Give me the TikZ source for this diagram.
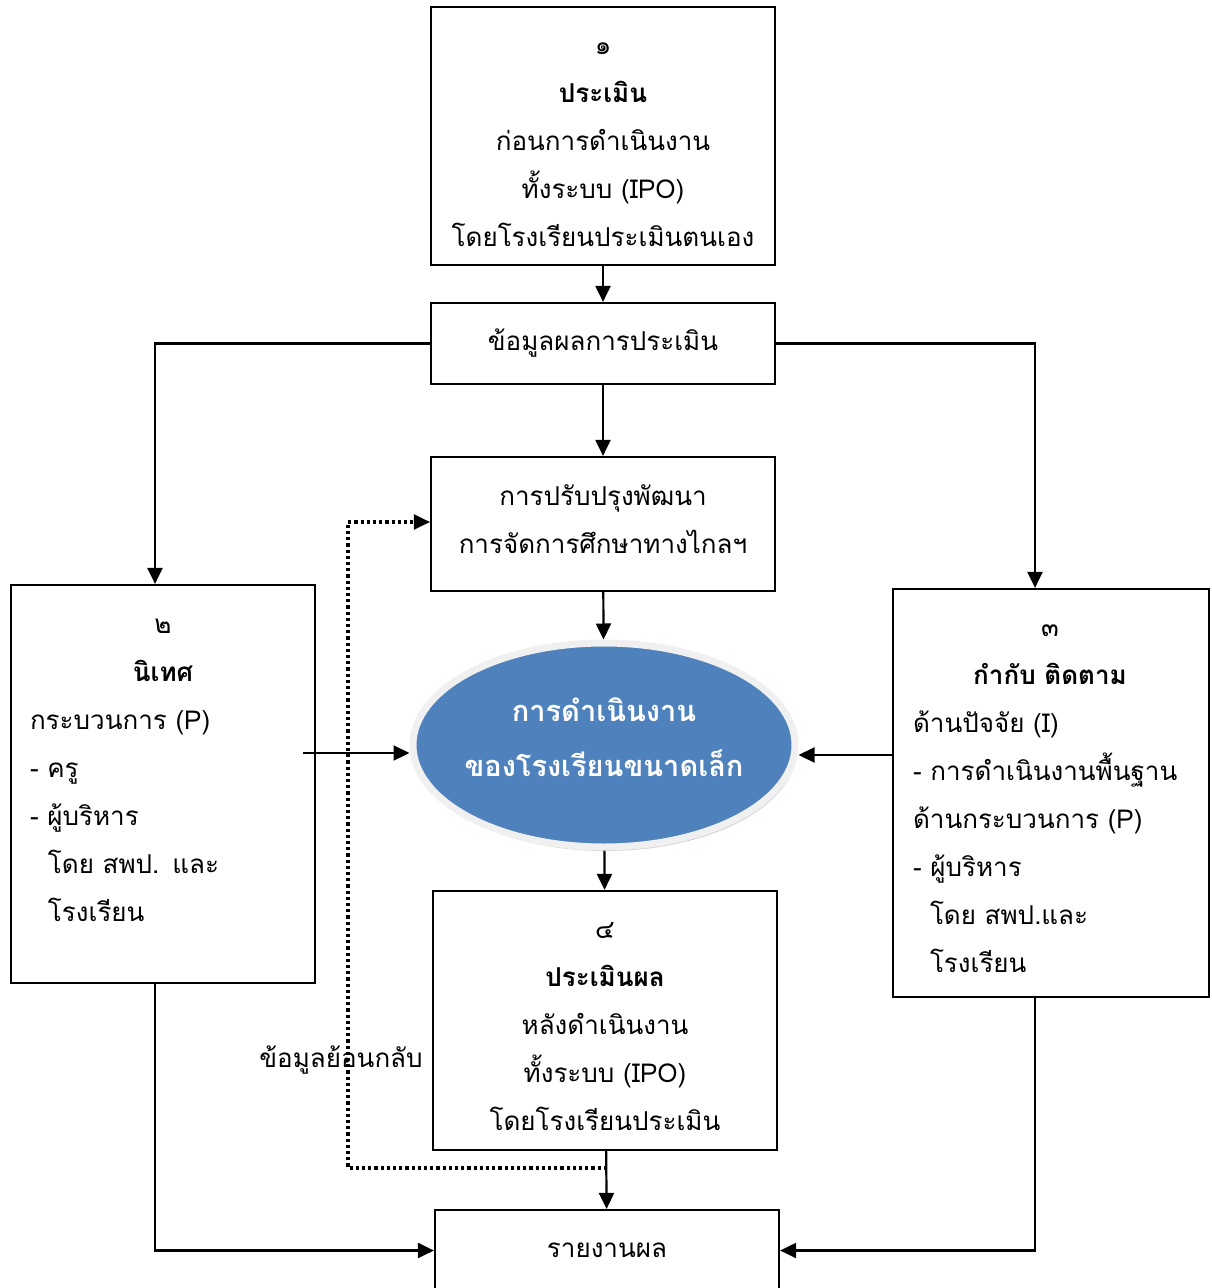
\documentclass[tikz,border=0pt]{standalone}
\usepackage{fontspec}
\newfontfamily\thai[Script=Thai]{Loma}
\usetikzlibrary{arrows.meta,shapes.geometric,shadows}

\tikzset{
    box/.style={draw, line width=1.1pt, minimum width=172pt, inner sep=0pt},
    txt/.style={align=left, inner sep=0pt},
    arr/.style={line width=1.1pt, -{Triangle[length=8pt,width=7.5pt]}},
    fbline/.style={line width=1.6pt, dash pattern=on 1.6pt off 1.5pt}
}

\begin{document}
\begin{tikzpicture}[x=0.5pt, y=-0.5pt, font=\thai\fontsize{13}{24}\selectfont]
    \useasboundingbox (0,0) rectangle (1211,1288);

    % middle column
    \node[box, minimum height=129pt] (pre) at (603,136) {};
    \node[txt, align=center] (pretext) at (603,145)
        {๑\\\textbf{ประเมิน}\\ก่อนการดำเนินงาน\\ทั้งระบบ (IPO)\\โดยโรงเรียนประเมินตนเอง};
    \node[box, minimum height=40.5pt] (data) at (603,343.5) {ข้อมูลผลการประเมิน};
    \node[box, minimum height=67pt] (improve) at (603,524) {};
    \node[txt, align=center] (improvetext) at (603,519)
        {การปรับปรุงพัฒนา\\การจัดการศึกษาทางไกลฯ};
    \node[ellipse, minimum width=191pt, minimum height=102pt, inner sep=0pt,
          fill={rgb,255:red,79;green,129;blue,189}, draw=gray!12, line width=3.5pt,
          drop shadow={shadow xshift=1pt, shadow yshift=-2pt, fill=gray!70}] (school) at (604,745) {};
    \node[txt, align=center, text=white, font=\thai\bfseries\fontsize{14.5}{27.5}\selectfont]
        (schooltext) at (604,737) {การดำเนินงาน\\ของโรงเรียนขนาดเล็ก};
    \node[box, minimum height=129.5pt] (post) at (605,1020.5) {};
    \node[txt, align=center] (posttext) at (605,1027)
        {๔\\\textbf{ประเมินผล}\\หลังดำเนินงาน\\ทั้งระบบ (IPO)\\โดยโรงเรียนประเมิน};
    \node[box, minimum height=40.5pt] (report) at (607,1250.5) {รายงานผล};

    % side boxes
    \node[draw, line width=1.1pt, minimum width=152pt, minimum height=199pt] (super) at (163,784) {};
    \node[txt, text width=133pt] (supertext) at (163,770)
        {\makebox[133pt]{๒}\\\makebox[133pt]{\textbf{นิเทศ}}\\กระบวนการ (P)\\- ครู\\- ผู้บริหาร\\
         \hspace*{9pt}โดย สพป. และ\\\hspace*{9pt}โรงเรียน};
    \node[draw, line width=1.1pt, minimum width=158pt, minimum height=204pt] (monitor) at (1051,793) {};
    \node[txt, text width=137pt] (monitortext) at (1050,799)
        {\makebox[137pt]{๓}\\\makebox[137pt]{\textbf{กำกับ ติดตาม}}\\ด้านปัจจัย (I)\\- การดำเนินงานพื้นฐาน\\
         ด้านกระบวนการ (P)\\- ผู้บริหาร\\\hspace*{8.5pt}โดย สพป.และ\\\hspace*{8.5pt}โรงเรียน};

    \node[inner sep=0pt] (fblabel) at (341,1060) {ข้อมูลย้อนกลับ};

    % connectors
    \draw[arr] (pre) -- (data);
    \draw[arr] (data) -- (improve);
    \draw[arr] (improve) -- (school);
    \draw[arr] (school) -- (post);
    \draw[arr] (post) -- (report);
    \draw[arr] (data.west) -| ([xshift=-4pt]super.north);
    \draw[arr] (data.east) -| ([xshift=-8pt]monitor.north);
    \draw[arr] ([xshift=-6.5pt,yshift=-4pt]super.east |- school.west) -- ([yshift=-4pt]school.west);
    \draw[arr] ([yshift=-5pt]monitor.west |- school.east) -- ([yshift=-5pt]school.east);
    \draw[arr] ([xshift=-4pt]super.south) |- (report.west);
    \draw[arr] ([xshift=-8pt]monitor.south) |- (report.east);

    % feedback
    \coordinate (fbstart) at (607,1168);
    \coordinate (fbcorner) at (348,1168);
    \coordinate (fbend) at ([xshift=-4pt,yshift=1pt]improve.west);
    \draw[fbline] (fbstart) -- (fbcorner) |- (fbend);
    \draw[arr] (fbend) -- ([yshift=1pt]improve.west);
\end{tikzpicture}
\end{document}
